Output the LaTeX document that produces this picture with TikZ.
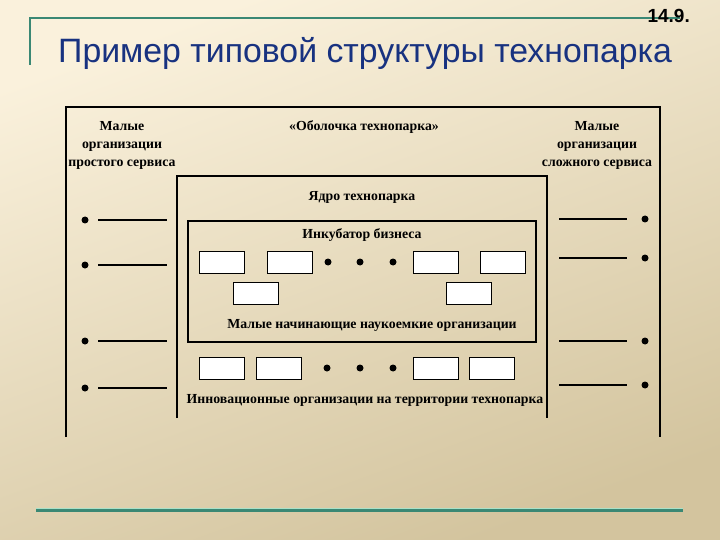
\documentclass[tikz,border=0pt]{standalone}
\usepackage{fontspec}
\setmainfont{Liberation Serif}
\newfontfamily\titlefont{Liberation Sans}
\usetikzlibrary{positioning}
\definecolor{bgtop}{RGB}{250,241,220}
\definecolor{bgbot}{RGB}{211,196,158}
\definecolor{linegreen}{RGB}{58,136,116}
\definecolor{mint}{RGB}{170,225,200}
\definecolor{titleblue}{RGB}{24,50,128}

\begin{document}
\begin{tikzpicture}[x=1pt, y=-1pt,
    lbl/.style={font=\bfseries\fontsize{13.8}{18}\selectfont, align=center, inner sep=0pt},
    org/.style={draw, fill=white, line width=1pt, minimum width=45pt, minimum height=22pt, inner sep=0pt},
    dot/.style={circle, fill=black, inner sep=0pt, minimum size=7pt},
    frame/.style={line width=1.3pt},
    blank/.style={line width=1.2pt}]
    \useasboundingbox (0,0) rectangle (720,540);
    \shade[top color=bgtop, bottom color=bgbot, shading angle=20] (0,0) rectangle (720,540);

    % header
    \draw[linegreen, line width=2pt] (30,65) -- (30,18) -- (680,18);
    \node[font=\titlefont\bfseries\fontsize{19}{19}\selectfont, anchor=base east, inner sep=0pt] (num) at (690,23) {14.9.};
    \node[font=\titlefont\fontsize{33.8}{34}\selectfont, text=titleblue, anchor=base west, inner sep=0pt] (title) at (58,63) {Пример типовой структуры технопарка};

    % frames
    \draw[frame] (66,437) -- (66,107) -- (660,107) -- (660,437);
    \draw[frame] (177,418) -- (177,176) -- (547,176) -- (547,418);
    \draw[frame] (188,221) rectangle (536,342);

    % labels
    \node[lbl] (simple) at (122,145) {Малые\\организации\\простого сервиса};
    \node[lbl] (shell) at (364,127) {«Оболочка технопарка»};
    \node[lbl] (complex) at (597,145) {Малые\\организации\\сложного сервиса};
    \node[lbl] (core) at (362,197) {Ядро технопарка};
    \node[lbl] (incub) at (362,235) {Инкубатор бизнеса};
    \node[lbl] (start) at (372,325) {Малые начинающие наукоемкие организации};
    \node[lbl] (innov) at (365,400) {Инновационные организации на территории технопарка};

    % incubator rows
    \foreach \x [count=\k] in {221.5,289.5,435.5,502.5}
        \node[org] (inc\k) at (\x,262) {};
    \node[org] (inc5) at (255.5,293) {};
    \node[org] (inc6) at (469,293) {};
    \foreach \x [count=\k] in {328,360,393}
        \node[dot] (incdot\k) at (\x,262) {};

    % innovative row
    \foreach \x [count=\k] in {221.5,278.5,435.5,491.5}
        \node[org] (inn\k) at (\x,368.5) {};
    \foreach \x [count=\k] in {327,360,393}
        \node[dot] (inndot\k) at (\x,368) {};

    % service organisations
    \foreach \y [count=\k] in {220,265,341,388} {
        \node[dot] (left\k) at (85,\y) {};
        \draw[blank] (98,\y) -- (167,\y);
    }
    \foreach \y [count=\k] in {219,258,341,385} {
        \node[dot] (right\k) at (645,\y) {};
        \draw[blank] (559,\y) -- (627,\y);
    }

    % footer
    \draw[linegreen, line width=3pt] (36,510.5) -- (683,510.5);
    \draw[mint, line width=0.8pt] (36,508.6) -- (683,508.6);
\end{tikzpicture}
\end{document}
